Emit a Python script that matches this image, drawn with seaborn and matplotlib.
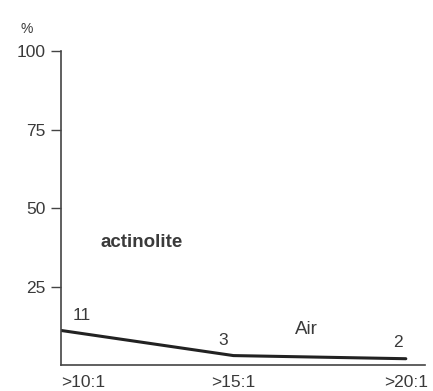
import numpy as np
import pandas as pd
import seaborn as sns
import matplotlib.pyplot as plt

sns.set_style('white')
plt.rcParams['font.family'] = ['Liberation Sans', 'DejaVu Sans']

# data
ratios = [10, 15, 20]
ratio_labels = ['>10:1', '>15:1', '>20:1']
percent = [11, 3, 2]
point_labels = ['11', '3', '2']
y_ticks = [25, 50, 75, 100]

df = pd.DataFrame({'ratio': ratios, 'percent': percent})

fig = plt.figure(figsize=(4.33, 3.91), dpi=100)
ax = fig.add_axes([0.141, 0.0665, 0.84, 0.803])

sns.lineplot(data=df, x='ratio', y='percent', color='#222222', linewidth=2.2, ax=ax)

ax.set_xlim(10, 20.55)
ax.set_ylim(0, 100)
ax.set_yticks(y_ticks)
ax.set_yticklabels([str(t) for t in y_ticks], fontsize=12.5, color='#3a3a3a')
ax.set_xticks(ratios)
ax.set_xticklabels(ratio_labels, fontsize=12.5, color='#3a3a3a')
ax.get_xticklabels()[0].set_ha('left')
ax.tick_params(axis='y', length=7.5, width=1, color='#444444', pad=3.5, left=True)
ax.tick_params(axis='x', length=0, pad=7)
ax.set_xlabel('')
ax.set_ylabel('')

for side in ['top', 'right']:
    ax.spines[side].set_visible(False)
for side in ['left', 'bottom']:
    ax.spines[side].set_color('#444444')
    ax.spines[side].set_linewidth(1.2)

# value labels above the points
offsets = [(21, 15), (-10, 15), (-8, 16)]
for x, y, lab, off in zip(ratios, percent, point_labels, offsets):
    ax.annotate(lab, (x, y), xytext=off, textcoords='offset pixels',
                ha='center', va='center', fontsize=12.5, color='#3a3a3a')

ax.text(11.13, 39, 'actinolite', fontsize=13.5, fontweight='bold', color='#3a3a3a',
        ha='left', va='center')
ax.text(17.13, 11.3, 'Air', fontsize=13.5, color='#3a3a3a', ha='center', va='center')
ax.text(-0.095, 1.07, '%', transform=ax.transAxes, fontsize=10, color='#3a3a3a',
        ha='center', va='center')

fig.savefig('out.png', dpi=100, facecolor='white')
